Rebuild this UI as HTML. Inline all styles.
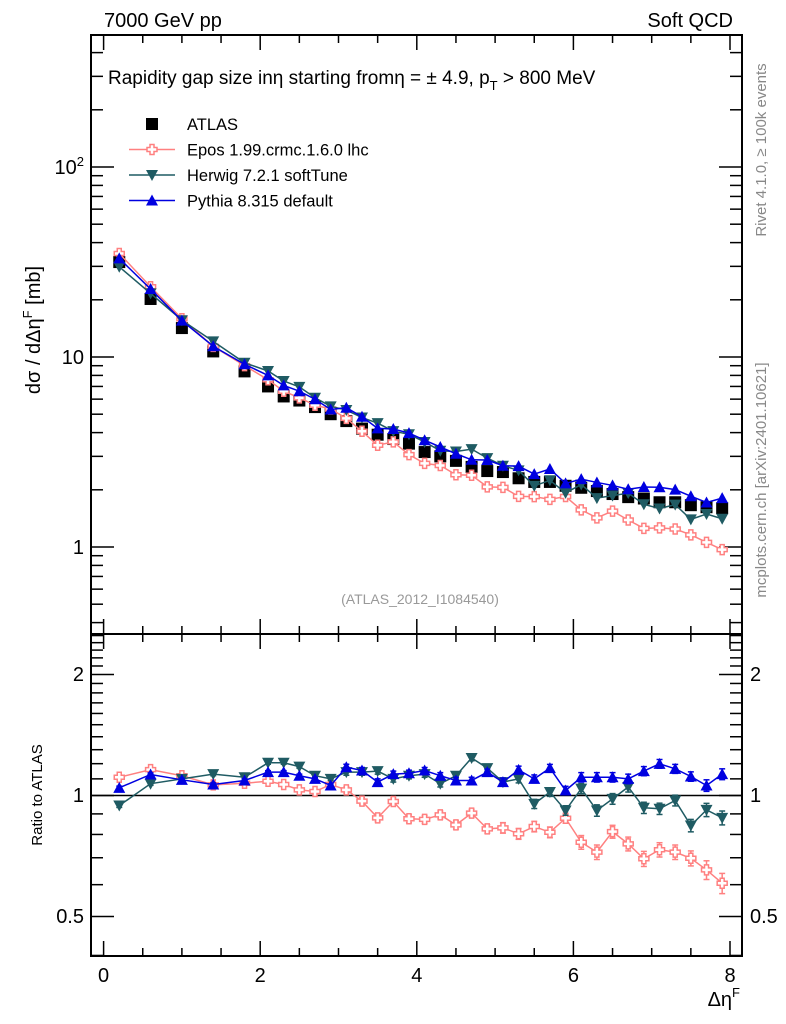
<!DOCTYPE html>
<html><head><meta charset="utf-8"><style>
html,body{margin:0;padding:0;background:#fff}
svg{display:block;font-family:"Liberation Sans",sans-serif}
</style></head><body>
<svg id="chartsvg" width="786" height="1024" viewBox="0 0 786 1024">
<text x="104" y="27" font-size="20">7000 GeV pp</text>
<text x="733" y="27" font-size="20" text-anchor="end">Soft QCD</text>
<text x="108" y="84" font-size="19">Rapidity gap size in&#951; starting from&#951; = &#177; 4.9, p<tspan dy="6" font-size="13">T</tspan><tspan dy="-6"> &gt; 800 MeV</tspan></text>
<text transform="translate(766,150) rotate(-90)" font-size="15" fill="#888" text-anchor="middle">Rivet 4.1.0, &#8805; 100k events</text>
<text transform="translate(766,480) rotate(-90)" font-size="15" fill="#888" text-anchor="middle">mcplots.cern.ch [arXiv:2401.10621]</text>
<text x="420" y="604" font-size="14" fill="#999" text-anchor="middle">(ATLAS_2012_I1084540)</text>
<text transform="translate(40,330) rotate(-90)" font-size="20" text-anchor="middle">d&#963; / d&#916;&#951;<tspan dy="-8" font-size="13">F</tspan><tspan dy="8"> [mb]</tspan></text>
<text transform="translate(42,795) rotate(-90)" font-size="15" text-anchor="middle">Ratio to ATLAS</text>
<text x="740" y="1006" font-size="20" text-anchor="end">&#916;&#951;<tspan dy="-9" font-size="13">F</tspan></text>
<rect x="91" y="35" width="651" height="599" fill="none" stroke="#000" stroke-width="2"/>
<rect x="91" y="634" width="651" height="322" fill="none" stroke="#000" stroke-width="2"/>
<text x="84" y="554" font-size="20" text-anchor="end">1</text>
<text x="84" y="364" font-size="20" text-anchor="end">10</text>
<text x="84" y="174" font-size="20" text-anchor="end">10<tspan dy="-8" font-size="13">2</tspan></text>
<text x="84" y="681" font-size="20" text-anchor="end">2</text>
<text x="84" y="802" font-size="20" text-anchor="end">1</text>
<text x="84" y="923" font-size="20" text-anchor="end">0.5</text>
<text x="750" y="681" font-size="20">2</text>
<text x="750" y="802" font-size="20">1</text>
<text x="750" y="923" font-size="20">0.5</text>
<line x1="91" x2="742" y1="795.5" y2="795.5" stroke="#000" stroke-width="1.5"/>
<g>
<rect x="146" y="118" width="12" height="12" fill="#000"/>
<text x="187" y="130" font-size="16.5">ATLAS</text>
<line x1="129" x2="175" y1="149.5" y2="149.5" stroke="#ff8080" stroke-width="1.5"/>
<path d="M150,144.5h4v3h3v4h-3v3h-4v-3h-3v-4h3z" fill="#fff" stroke="#ff8080" stroke-width="1.5"/>
<text x="187" y="155.5" font-size="16.5">Epos 1.99.crmc.1.6.0 lhc</text>
<line x1="129" x2="175" y1="175" y2="175" stroke="#1f5b63" stroke-width="1.5"/>
<polygon points="146,170 158,170 152,181" fill="#1f5b63"/>
<text x="187" y="181" font-size="16.5">Herwig 7.2.1 softTune</text>
<line x1="129" x2="175" y1="200.5" y2="200.5" stroke="#0000e0" stroke-width="1.5"/>
<polygon points="146,205.5 158,205.5 152,194.5" fill="#0000e0"/>
<text x="187" y="206.5" font-size="16.5">Pythia 8.315 default</text>
</g>
<g id="plotlayer"></g>
</svg>
<script>
var gapX=[0.2,0.6,1.0,1.4,1.8,2.1,2.3,2.5,2.7,2.9,3.1,3.3,3.5,3.7,3.9,4.1,4.3,4.5,4.7,4.9,5.1,5.3,5.5,5.7,5.9,6.1,6.3,6.5,6.7,6.9,7.1,7.3,7.5,7.7,7.9];
var atlasValues=[31.6,20.2,14.2,10.7,8.4,7.0,6.2,5.9,5.45,5.0,4.6,4.2,3.9,3.7,3.5,3.16,3.0,2.84,2.64,2.51,2.48,2.3,2.2,2.2,2.1,2.05,1.97,1.9,1.83,1.8,1.72,1.72,1.66,1.62,1.6];
var eposRatio=[1.11,1.16,1.12,1.063,1.073,1.085,1.065,1.033,1.023,1.065,1.033,0.968,0.88,0.966,0.875,0.872,0.895,0.845,0.904,0.826,0.831,0.803,0.837,0.81,0.878,0.765,0.723,0.813,0.758,0.696,0.733,0.723,0.698,0.653,0.605];
var herwigRatio=[0.944,1.07,1.10,1.13,1.11,1.206,1.206,1.18,1.12,1.10,1.143,1.143,1.15,1.10,1.12,1.13,1.07,1.12,1.24,1.17,1.08,1.10,0.953,1.02,0.918,1.04,0.918,0.981,1.05,0.932,0.927,0.972,0.842,0.921,0.88];
var pythiaRatio=[1.045,1.128,1.094,1.065,1.09,1.143,1.143,1.12,1.10,1.059,1.176,1.154,1.08,1.13,1.136,1.154,1.12,1.09,1.09,1.143,1.08,1.158,1.10,1.17,1.029,1.11,1.11,1.11,1.10,1.15,1.199,1.165,1.115,1.059,1.13];
var ratioErr=[0.01,0.01,0.01,0.01,0.01,0.01,0.01,0.01,0.01,0.01,0.02,0.02,0.02,0.02,0.02,0.02,0.02,0.02,0.02,0.02,0.025,0.025,0.025,0.025,0.025,0.03,0.03,0.03,0.03,0.03,0.03,0.03,0.03,0.035,0.035];
var xTickLabels=[0,2,4,6,8];
(function(){
var PL=91,PR=742,PT=35,PM=634,PB=956;
function sx(v){return 103.6+78.3*v;}
function sy(v){return 547-190*Math.log(v)/Math.LN10;}
function sr(v){return 795.5-121*Math.log(v)/Math.LN2;}
function f(n){return (Math.round(n*100)/100).toString();}
var parts=[];
function line(x1,y1,x2,y2,col){parts.push('<line x1="'+f(x1)+'" y1="'+f(y1)+'" x2="'+f(x2)+'" y2="'+f(y2)+'" stroke="'+col+'" stroke-width="1.5"/>');}
function marker(type,x,y,col){
 if(type=='sq')return '<rect x="'+f(x-6)+'" y="'+f(y-6)+'" width="12" height="12" fill="'+col+'"/>';
 if(type=='up')return '<polygon points="'+f(x-6)+','+f(y+5)+' '+f(x+6)+','+f(y+5)+' '+f(x)+','+f(y-6)+'" fill="'+col+'"/>';
 if(type=='dn')return '<polygon points="'+f(x-6)+','+f(y-5)+' '+f(x+6)+','+f(y-5)+' '+f(x)+','+f(y+6)+'" fill="'+col+'"/>';
 return '<path d="M'+f(x-2)+','+f(y-5)+'h4v3h3v4h-3v3h-4v-3h-3v-4h3z" fill="#fff" stroke="'+col+'" stroke-width="1.5"/>';
}
for(var k=0;k<=16;k++){var v=k*0.5;var len=(k%4==0)?15:8;
 line(sx(v),PT,sx(v),PT+len,'#000');line(sx(v),PM,sx(v),PM-len,'#000');
 line(sx(v),PM,sx(v),PM+len,'#000');line(sx(v),PB,sx(v),PB-len,'#000');}
for(var i=0;i<xTickLabels.length;i++){
 parts.push('<text x="'+f(sx(xTickLabels[i]))+'" y="982" font-size="20" text-anchor="middle">'+xTickLabels[i]+'</text>');}
for(var d=-1;d<=2;d++)for(var m=1;m<=9;m++){var val=m*Math.pow(10,d);var y=sy(val);if(y<PT||y>PM)continue;var ln=m==1?23:12;
 line(PL,y,PL+ln,y,'#000');line(PR,y,PR-ln,y,'#000');}
var rm=[0.4,0.5,0.6,0.7,0.8,0.9,1,1.1,1.2,1.3,1.4,1.5,1.6,1.7,1.8,1.9,2,2.1,2.2,2.3,2.4,2.5];
for(var j=0;j<rm.length;j++){var yy=sr(rm[j]);if(yy<PM||yy>PB)continue;var l2=(rm[j]==0.5||rm[j]==1||rm[j]==2)?23:12;
 line(PL,yy,PL+l2,yy,'#000');line(PR,yy,PR-l2,yy,'#000');}
parts.push('<g>');
for(var a=0;a<gapX.length;a++)parts.push(marker('sq',sx(gapX[a]),sy(atlasValues[a]),'#000'));
parts.push('</g>');
var series=[['epos',eposRatio,'#ff8080','cr'],['herwig',herwigRatio,'#1f5b63','dn'],['pythia',pythiaRatio,'#0000e0','up']];
for(var s=0;s<series.length;s++){var nm=series[s][0],r=series[s][1],col=series[s][2],type=series[s][3];
 var p1=[],p2=[];
 for(var q=0;q<gapX.length;q++){p1.push(f(sx(gapX[q]))+','+f(sy(atlasValues[q]*r[q])));p2.push(f(sx(gapX[q]))+','+f(sr(r[q])));}
 parts.push('<g><polyline points="'+p1.join(' ')+'" fill="none" stroke="'+col+'" stroke-width="1.5"/>');
 for(q=0;q<gapX.length;q++)parts.push(marker(type,sx(gapX[q]),sy(atlasValues[q]*r[q]),col));
 parts.push('</g><g><polyline points="'+p2.join(' ')+'" fill="none" stroke="'+col+'" stroke-width="1.5"/>');
 for(q=0;q<gapX.length;q++){var xx=sx(gapX[q]),y1=sr(r[q]+ratioErr[q]),y2=sr(r[q]-ratioErr[q]);
  line(xx,y1,xx,y2,col);line(xx-3,y1,xx+3,y1,col);line(xx-3,y2,xx+3,y2,col);
  parts.push(marker(type,xx,sr(r[q]),col));}
 parts.push('</g>');}
var layer=document.getElementById('plotlayer');
var wrap=new DOMParser().parseFromString('<svg xmlns="http://www.w3.org/2000/svg">'+parts.join('')+'</svg>','image/svg+xml').documentElement;
while(wrap.firstChild){layer.appendChild(document.importNode(wrap.firstChild,true));wrap.removeChild(wrap.firstChild);}
})();
</script>
</body></html>
